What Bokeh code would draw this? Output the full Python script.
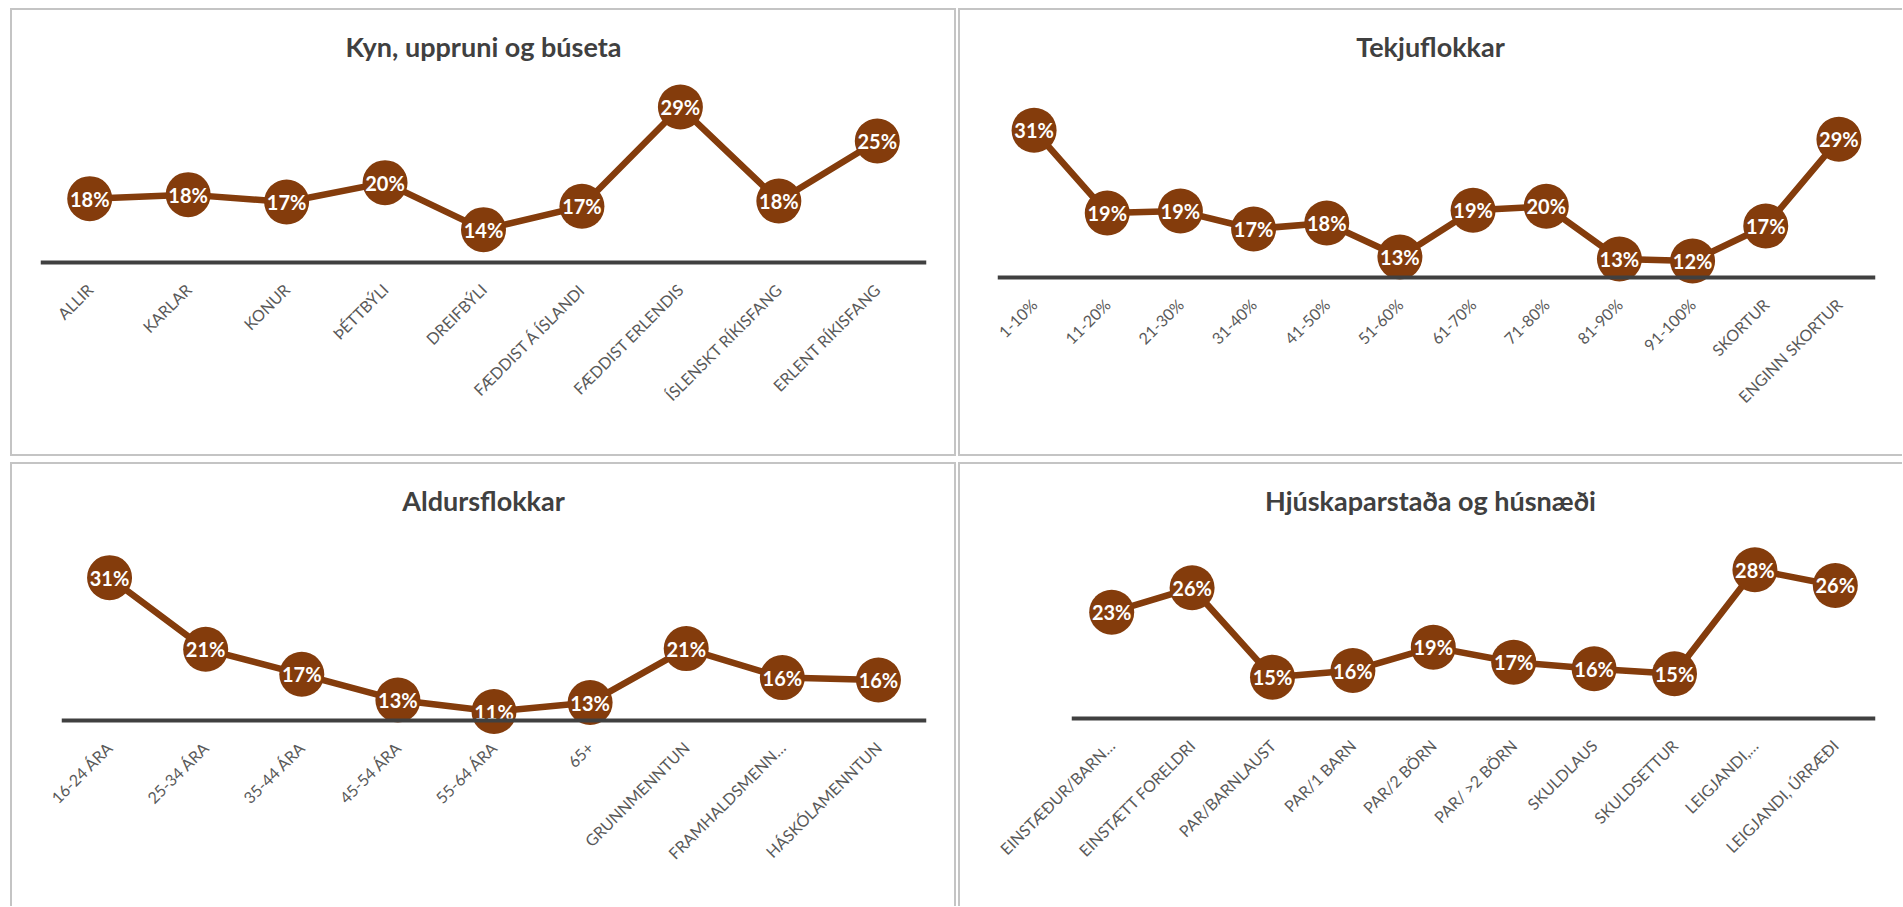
import math
from bokeh.plotting import figure
from bokeh.layouts import row, column
from bokeh.models import Range1d, FactorRange, Span, Label, ColumnDataSource
from bokeh.core.properties import value
from bokeh.embed import file_html
from bokeh.resources import INLINE

# ---------------- data ----------------
title1 = "Kyn, uppruni og búseta"
cat1 = ["ALLIR", "KARLAR", "KONUR", "ÞÉTTBÝLI", "DREIFBÝLI", "FÆDDIST Á ÍSLANDI",
        "FÆDDIST ERLENDIS", "ÍSLENSKT RÍKISFANG", "ERLENT RÍKISFANG"]
val1 = [0.1783, 0.1832, 0.1742, 0.1979, 0.1403, 0.1689, 0.2906, 0.1754, 0.2490]

title2 = "Tekjuflokkar"
cat2 = ["1-10%", "11-20%", "21-30%", "31-40%", "41-50%", "51-60%", "61-70%", "71-80%",
        "81-90%", "91-100%", "SKORTUR", "ENGINN SKORTUR"]
val2 = [0.3060, 0.1902, 0.1930, 0.1679, 0.1763, 0.1287, 0.1940, 0.1996, 0.1259, 0.1231,
        0.1721, 0.2934]

title3 = "Aldursflokkar"
cat3 = ["16-24 ÁRA", "25-34 ÁRA", "35-44 ÁRA", "45-54 ÁRA", "55-64 ÁRA", "65+",
        "GRUNNMENNTUN", "FRAMHALDSMENN…", "HÁSKÓLAMENNTUN"]
val3 = [0.3128, 0.2060, 0.1688, 0.1305, 0.1133, 0.1267, 0.2071, 0.1639, 0.1603]

title4 = "Hjúskaparstaða og húsnæði"
cat4 = ["EINSTÆÐUR/BARN…", "EINSTÆTT FORELDRI", "PAR/BARNLAUST", "PAR/1 BARN",
        "PAR/2 BÖRN", "PAR/ >2 BÖRN", "SKULDLAUS", "SKULDSETTUR", "LEIGJANDI,…",
        "LEIGJANDI, ÚRRÆÐI"]
val4 = [0.2294, 0.2591, 0.1503, 0.1584, 0.1868, 0.1685, 0.1605, 0.1544, 0.2810, 0.2619]

AXIS_MIN = 0.10

# ---------------- style ----------------
BROWN = "#843C0C"
BORDER = "#c4c4c4"
FONT = "Lato"
TOP = 4          # frame starts just under the panel border
TITLE_REL = 38   # title centre, pixels below the panel top


def make_panel(title, cats, vals, w, h, left, right, bottom, axis_rel, scale, shadow):
    # scale = pixels per unit of value; axis_rel = y of the axis line inside the panel
    y_start = AXIS_MIN - (bottom - axis_rel) / scale
    y_end = AXIS_MIN + (axis_rel - TOP) / scale
    p = figure(x_range=FactorRange(*cats), y_range=Range1d(y_start, y_end),
               width=w, height=h, output_backend="svg", toolbar_location=None,
               title_location=None,
               min_border_left=left, min_border_right=right,
               min_border_top=TOP, min_border_bottom=h - bottom,
               styles={"box-shadow": shadow})
    p.frame_align = False
    p.background_fill_color = None
    p.border_fill_color = None
    p.outline_line_color = None
    p.xgrid.visible = False
    p.ygrid.visible = False
    p.yaxis.visible = False
    ax = p.xaxis[0]
    ax.axis_line_color = None
    ax.major_tick_line_color = None
    ax.minor_tick_line_color = None
    ax.major_label_orientation = math.pi / 4
    ax.major_label_text_font = FONT
    ax.major_label_text_font_size = "16px"
    ax.major_label_text_color = "#595959"
    ax.major_label_standoff = 2

    p.add_layout(Span(location=AXIS_MIN, dimension="width", line_color="#404040",
                      line_width=4))

    src = ColumnDataSource(dict(x=cats, y=vals,
                                lab=[f"{round(v * 100)}%" for v in vals]))
    p.line("x", "y", source=src, line_color=BROWN, line_width=6.5)
    p.scatter("x", "y", source=src, size=45, fill_color=BROWN, line_color=None)
    p.text("x", "y", text="lab", source=src, text_color="white",
           text_font=value(FONT), text_font_style="bold", text_font_size="20px",
           text_align="center", text_baseline="middle")

    n = len(cats)
    fw = w - left - right
    x_syn = n * (w / 2 - left) / fw
    y_t = AXIS_MIN + (axis_rel - TITLE_REL) / scale
    p.add_layout(Label(x=x_syn, y=y_t, text=title, text_font=FONT,
                       text_font_style="bold", text_font_size="27px",
                       text_color="#404040", text_align="center",
                       text_baseline="middle"))
    return p


sh_all = f"inset 0 0 0 2px {BORDER}"
sh_tlb = f"inset 2px 2px 0 0 {BORDER}, inset 0 -2px 0 0 {BORDER}"
sh_tlr = f"inset 2px 2px 0 0 {BORDER}, inset -2px 0 0 0 {BORDER}"
sh_tl = f"inset 2px 2px 0 0 {BORDER}"

p1 = make_panel(title1, cat1, val1, 946, 448, 30, 30, 270, 254, 815.7, sh_all)
p2 = make_panel(title2, cat2, val2, 944, 448, 39, 27, 285, 269, 714.7, sh_tlb)
p3 = make_panel(title3, cat3, val3, 946, 444, 51, 30, 274, 258, 671.4, sh_tlr)
p4 = make_panel(title4, cat4, val4, 944, 444, 113, 27, 272, 256, 821.7, sh_tl)

layout = column(row(p1, p2, spacing=2), row(p3, p4, spacing=2), spacing=6,
                margin=(8, 0, 0, 10))

open("out.html", "w").write(file_html(layout, INLINE))
